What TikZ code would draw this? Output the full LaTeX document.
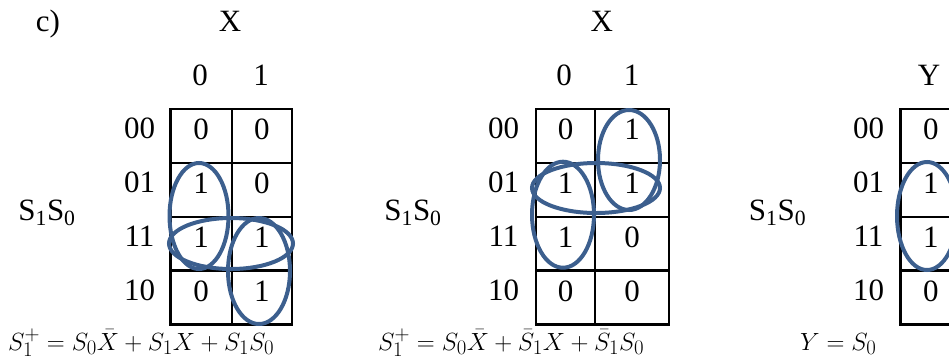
\documentclass[tikz,border=0pt]{standalone}
\usepackage{fontspec}
\setmainfont{Liberation Serif}
\usetikzlibrary{shapes.geometric}
\definecolor{ring}{HTML}{3C5F8E}
\begin{document}
\begin{tikzpicture}[x=1pt,y=-1pt,
  every node/.style={font=\fontsize{31}{34}\selectfont, inner sep=0pt},
  cell/.style={draw, line width=2.2pt, minimum width=#1, minimum height=54pt,
    text height=20pt, text depth=12pt, anchor=north west},
  lbl/.style={anchor=base},
  loop/.style={draw=ring, line width=4pt, ellipse, minimum width=#1},
  eqn/.style={anchor=base west, font=\fontsize{27.5}{30}\selectfont}
]
\useasboundingbox (0,0) rectangle (949,360);
\clip (0,0) rectangle (949,360);
\node[lbl] (c) at (48,31) {c)};
% ---------- map 1
\node[lbl] (x1) at (230,31) {X};
\node[lbl] (h10) at (200,85) {0};
\node[lbl] (h11) at (261,85) {1};
\node[lbl] (s1) at (47,220) {S\textsubscript{1}S\textsubscript{0}};
\foreach \r/\t/\y in {0/00/107.7,1/01/161.7,2/11/215.7,3/10/269.3}{
  \node[lbl] (r1\r) at (139.5,\y+31) {\t};
}
\foreach \r/\y/\a/\b in {0/107.7/0/0,1/161.7/1/0,2/215.7/1/1,3/269.3/0/1}{
  \node[cell=61.4pt] (m1a\r) at (169.3,\y) {\a};
  \node[cell=60pt] (m1b\r) at (230.7,\y) {\b};
}
\node[loop=59pt, minimum height=106pt] (e11) at (199,216) {};
\node[loop=124pt, minimum height=51pt] (e12) at (231,243.5) {};
\node[loop=62pt, minimum height=106pt] (e13) at (259,271) {};
\node[eqn] (eq1) at (8,350) {$S_1^+ = S_0\bar{X} + S_1X + S_1S_0$};
% ---------- map 2
\node[lbl] (x2) at (601.7,31) {X};
\node[lbl] (h20) at (564,85) {0};
\node[lbl] (h21) at (631.7,85) {1};
\node[lbl] (s2) at (413,220) {S\textsubscript{1}S\textsubscript{0}};
\foreach \r/\t/\y in {0/00/107.7,1/01/161.7,2/11/215.7,3/10/269.3}{
  \node[lbl] (r2\r) at (503.5,\y+31) {\t};
}
\foreach \r/\y/\a/\b in {0/107.7/0/1,1/161.7/1/1,2/215.7/1/0,3/269.3/0/0}{
  \node[cell=59pt] (m2a\r) at (535,\y) {\a};
  \node[cell=74pt] (m2b\r) at (594,\y) {\b};
}
\node[loop=62pt, minimum height=106pt] (e21) at (563,214.7) {};
\node[loop=128pt, minimum height=50pt] (e22) at (596,188) {};
\node[loop=62pt, minimum height=100pt] (e23) at (629,160) {};
\node[eqn] (eq2) at (378,350) {$S_1^+ = S_0\bar{X} + \bar{S}_1X + \bar{S}_1S_0$};
% ---------- map 3
\node[lbl] (y3) at (929,85) {Y};
\node[lbl] (s3) at (777.5,220) {S\textsubscript{1}S\textsubscript{0}};
\foreach \r/\t/\y in {0/00/107.7,1/01/161.7,2/11/215.7,3/10/269.3}{
  \node[lbl] (r3\r) at (868.5,\y+31) {\t};
}
\foreach \r/\y/\a in {0/107.7/0,1/161.7/1,2/215.7/1,3/269.3/0}{
  \node[cell=61pt] (m3a\r) at (899.3,\y) {\a};
}
\node[loop=60pt, minimum height=108pt] (e31) at (927,216) {};
\node[eqn] (eq3) at (800,350) {$Y = S_0$};
\end{tikzpicture}
\end{document}
